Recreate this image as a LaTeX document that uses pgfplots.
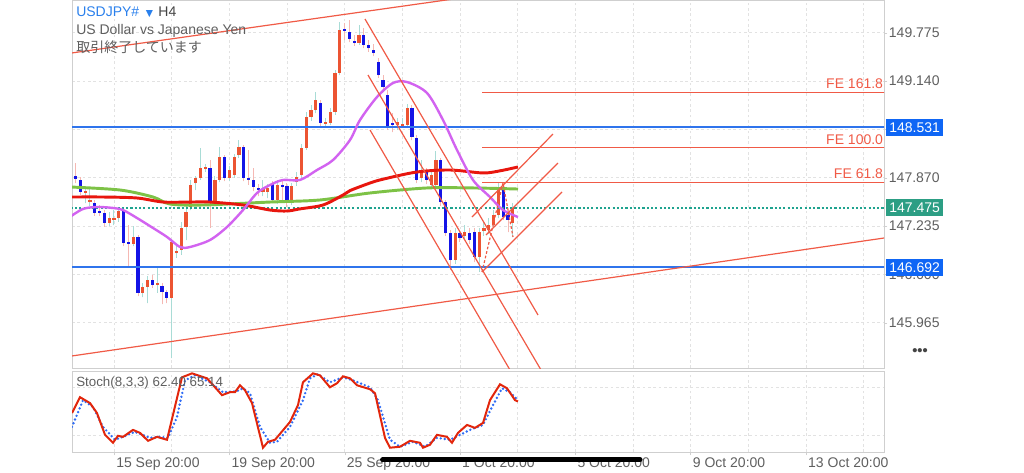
\documentclass[border=0pt]{standalone}
\usepackage{pgfplots}
\pgfplotsset{compat=1.18}
\usepackage{pgfplotstable}
\usepackage{fontspec}
\setmainfont{Liberation Sans}
\newfontfamily\cjk{Noto Sans CJK JP}
\newfontfamily\dejavu{DejaVu Sans}

\definecolor{candleup}{HTML}{EC5432}
\definecolor{candledn}{HTML}{1414E6}
\definecolor{wickup}{HTML}{A9DCD6}
\definecolor{wickdn}{HTML}{F5B8B3}
\definecolor{lvl}{HTML}{F05A46}
\definecolor{lvlblue}{HTML}{2F74EC}
\definecolor{boxblue}{HTML}{0F66F5}
\definecolor{boxteal}{HTML}{2C9E84}
\definecolor{lvlteal}{HTML}{1FA38F}
\definecolor{magma}{HTML}{D263F0}
\definecolor{mared}{HTML}{E8160E}
\definecolor{magreen}{HTML}{7DC246}
\definecolor{txtgrey}{HTML}{5F5F5F}
\definecolor{txtdark}{HTML}{444444}
\definecolor{hdrblue}{HTML}{2A80EC}
\definecolor{framec}{HTML}{CFCFCF}
\definecolor{gridc}{HTML}{E2E2E2}
\definecolor{stochred}{HTML}{E2260C}
\definecolor{stochblue}{HTML}{2F6CF5}

\pgfplotsset{candle/.style={only marks, mark=*, mark size=0pt, mark options={draw=none, fill=none}, forget plot}}

\pgfplotstableread{
i o h l c
-9 147.616 147.971 147.603 147.879
-8 147.892 148.063 147.800 147.853
-7 147.840 147.879 147.642 147.682
-6 147.669 147.748 147.537 147.695
-5 147.550 147.748 147.498 147.577
-4 147.537 147.577 147.367 147.406
-3 147.432 147.511 147.367 147.406
-2 147.406 147.445 147.222 147.275
-1 147.275 147.419 147.235 147.340
0 147.314 147.445 147.248 147.340
1 147.340 147.472 147.288 147.432
2 147.432 147.472 146.972 147.012
3 147.025 147.248 146.696 146.999
4 146.999 147.235 146.972 147.091
5 147.091 147.117 146.315 146.355
6 146.355 146.486 146.302 146.434
7 146.434 146.578 146.223 146.526
8 146.526 146.591 146.421 146.460
9 146.460 146.683 146.355 146.486
10 146.447 146.486 146.210 146.368
11 146.368 146.394 146.223 146.289
12 146.289 147.051 145.500 147.025
13 146.880 146.985 146.815 146.907
14 146.920 147.288 146.854 147.209
15 147.222 147.511 147.051 147.419
16 147.485 147.840 147.445 147.774
17 147.800 147.892 147.708 147.866
18 147.866 148.260 147.840 147.997
19 147.984 148.050 147.945 148.011
20 147.997 148.102 147.209 147.537
21 147.537 147.892 147.498 147.840
22 147.840 148.273 147.813 148.142
23 148.142 148.168 147.826 147.866
24 147.866 148.024 147.826 147.971
25 147.905 148.181 147.866 148.142
26 148.168 148.365 148.129 148.273
27 148.273 148.300 147.826 147.866
28 147.866 148.234 147.774 147.840
29 147.840 147.997 147.695 147.748
30 147.735 147.787 147.629 147.708
31 147.682 147.840 147.629 147.721
32 147.682 147.787 147.603 147.735
33 147.787 147.826 147.537 147.577
34 147.577 147.840 147.524 147.774
35 147.774 147.840 147.577 147.748
36 147.761 147.800 147.485 147.577
37 147.577 147.800 147.511 147.761
38 147.813 147.945 147.761 147.879
39 147.905 148.313 147.866 148.260
40 148.260 148.733 148.234 148.668
41 148.668 148.825 148.615 148.759
42 148.759 148.996 148.720 148.891
43 148.852 148.891 148.549 148.589
44 148.576 148.654 148.536 148.602
45 148.589 148.786 148.562 148.733
46 148.733 149.285 148.694 149.246
47 149.246 149.916 149.219 149.811
48 149.824 149.903 149.679 149.798
49 149.784 149.942 149.653 149.692
50 149.666 149.745 149.601 149.640
51 149.640 149.876 149.614 149.745
52 149.745 149.837 149.574 149.614
53 149.614 149.679 149.522 149.574
54 149.548 149.627 149.469 149.509
55 149.390 149.443 149.180 149.219
56 149.154 149.219 149.022 149.062
57 148.957 149.022 148.497 148.536
58 148.589 148.720 148.470 148.562
59 148.562 148.654 148.497 148.602
60 148.549 148.654 148.523 148.576
61 148.562 148.838 148.523 148.786
62 148.786 148.825 148.365 148.405
63 148.392 148.431 147.800 147.840
64 147.866 148.102 147.813 147.971
65 147.945 147.997 147.787 147.840
66 147.774 147.971 147.735 147.905
67 147.774 148.221 147.735 148.102
68 148.102 148.129 147.498 147.550
69 147.550 147.577 147.104 147.143
70 147.143 147.183 146.657 146.788
71 146.788 147.209 146.736 147.143
72 147.143 147.183 147.025 147.077
73 147.104 147.248 147.051 147.156
74 147.143 147.209 146.999 147.051
75 147.156 147.209 146.762 146.828
76 146.828 147.209 146.631 147.156
77 147.169 147.288 147.104 147.209
78 147.183 147.340 147.130 147.248
79 147.248 147.445 147.209 147.380
80 147.380 147.800 147.340 147.708
81 147.708 147.774 147.314 147.353
82 147.380 147.445 147.156 147.314
83 147.275 147.537 147.091 147.475
}\candles

\pgfplotstableread{
i p
-9.2 147.353
-6.45 147.459
-3.54 147.485
-0.21 147.472
1.87 147.445
4.79 147.340
8.12 147.209
11.03 147.091
13.74 146.959
15.82 146.959
19.98 147.051
23.52 147.222
26.85 147.445
29.76 147.669
32.47 147.774
35.17 147.840
38.71 147.840
42.25 147.971
45.58 148.102
49.11 148.365
51.20 148.628
54.73 148.930
58.06 149.114
60.98 149.127
65.14 148.983
68.47 148.628
71.38 148.234
74.71 147.840
78.25 147.616
80.96 147.445
84.08 147.353
}\maviolet

\pgfplotstableread{
i p
-9.2 147.616
-2.29 147.616
4.79 147.603
10.20 147.550
15.82 147.550
19.98 147.550
26.85 147.511
32.47 147.445
36.00 147.432
38.71 147.460
43.50 147.511
47.66 147.642
49.11 147.700
53.28 147.800
55.98 147.850
63.06 147.945
69.93 147.971
76.80 147.932
80.33 147.960
84.08 148.011
}\mared

\pgfplotstableread{
i p
-9.2 147.748
1.25 147.708
8.12 147.616
11.65 147.524
18.52 147.511
32.47 147.550
42.87 147.577
53.28 147.669
65.14 147.735
74.71 147.735
84.08 147.721
}\magreen

\pgfplotstableread{
i v
-8.74 48.1
-7.08 67.7
-4.99 60.4
-3.54 48.1
-1.87 21.2
-0.21 11.4
0.83 20.0
1.87 18.7
3.95 27.3
5.41 23.6
7.08 13.8
8.95 18.7
11.03 15.1
14.15 92.2
16.23 97.1
19.35 91.0
22.48 70.2
24.14 73.8
25.18 73.8
26.22 82.4
27.26 76.3
28.72 60.4
31.01 5.3
32.05 12.6
33.51 15.1
36.63 37.1
38.29 57.9
39.33 86.1
41.42 97.1
42.87 94.6
44.95 79.9
46.41 84.9
47.66 93.4
49.11 91.0
50.57 82.4
53.28 77.5
54.32 72.6
56.40 17.5
57.44 5.3
59.52 6.5
61.60 13.8
63.68 11.4
64.31 5.3
65.76 8.9
67.22 21.2
69.30 18.7
70.34 11.4
71.59 23.6
73.47 33.4
75.13 29.8
76.80 35.9
78.25 64.0
80.33 83.6
81.79 78.7
83.46 64.0
84.08 62.4
}\stochk

\pgfplotstableread{
i v
-8.74 31.0
-6.45 64.0
-4.37 55.5
-2.29 31.0
0.21 15.1
1.87 18.7
4.37 24.9
7.49 17.5
9.57 18.7
11.24 17.5
13.11 43.2
14.78 88.5
16.86 94.6
19.98 86.1
22.68 73.8
25.60 75.1
26.85 78.7
28.30 72.6
30.39 31.0
32.47 11.4
33.92 12.6
36.63 31.0
39.33 64.0
40.79 91.0
42.46 95.9
44.95 86.1
47.66 92.2
49.74 88.5
53.28 79.9
54.94 64.0
57.44 15.1
59.52 6.5
62.23 12.6
64.72 6.5
67.22 17.5
69.93 15.1
72.01 21.2
74.09 27.3
76.80 33.4
78.67 55.5
80.75 78.7
82.41 73.8
83.87 65.1
}\stochd

\pgfplotstableread{
i p
-9 148.531
161 148.531
}\lvlhigh
\pgfplotstableread{
i p
-9 146.692
161 146.692
}\lvllow
\pgfplotstableread{
i p
-9 147.475
161 147.475
}\lvlnow

\begin{document}
\begin{tikzpicture}
\useasboundingbox (0pt,0pt) rectangle (768pt,354pt);
% ---------------- main price panel ----------------
\begin{axis}[
  at={(54pt,78pt)}, anchor=south west, scale only axis,
  width=609pt, height=276pt,
  xmin=-8.74, xmax=160.25, ymin=145.369, ymax=150.205,
  clip mode=individual,
  axis line style={framec},
  xtick={0,24,48,72,96,120,144}, minor xtick={12,36,60,84,108,132,156},
  xticklabels={}, xtick style={draw=none}, minor tick length=0pt,
  xmajorgrids, xminorgrids, ymajorgrids,
  grid style={gridc, dash pattern=on 2pt off 2pt, line width=0.5pt},
  minor grid style={gridc, dash pattern=on 2pt off 2pt, line width=0.5pt},
  ytick={145.965,146.600,147.235,147.870,148.505,149.140,149.775},
  yticklabels={145.965,146.600,147.235,147.870,148.505,149.140,149.775},
  ytick pos=right, yticklabel pos=right, tick align=outside,
  major tick length=2.5pt, ytick style={framec},
  yticklabel style={font=\fontsize{10.5}{12}\selectfont, text=txtgrey, anchor=west, inner sep=0pt, xshift=1pt},
]
% candles: wicks
\addplot[candle,
  restrict expr to domain={\thisrow{c}-\thisrow{o}}{0:10},
  error bars/.cd, y dir=plus, y explicit, error mark=none,
  error bar style={line width=0.75pt, draw=wickup, solid}]
  table[x=i, y=l, y error expr={\thisrow{h}-\thisrow{l}}] {\candles};
\addplot[candle,
  restrict expr to domain={\thisrow{c}-\thisrow{o}}{-10:-0.0001},
  error bars/.cd, y dir=plus, y explicit, error mark=none,
  error bar style={line width=0.75pt, draw=wickdn, solid}]
  table[x=i, y=l, y error expr={\thisrow{h}-\thisrow{l}}] {\candles};
% candles: bodies
\addplot[candle,
  restrict expr to domain={\thisrow{c}-\thisrow{o}}{0:10},
  error bars/.cd, y dir=plus, y explicit, error mark=none,
  error bar style={line width=2.4pt, draw=candleup, solid}]
  table[x=i, y=o, y error expr={max(\thisrow{c}-\thisrow{o},0.014)}] {\candles};
\addplot[candle,
  restrict expr to domain={\thisrow{c}-\thisrow{o}}{-10:-0.0001},
  error bars/.cd, y dir=plus, y explicit, error mark=none,
  error bar style={line width=2.4pt, draw=candledn, solid}]
  table[x=i, y=c, y error expr={max(\thisrow{o}-\thisrow{c},0.014)}] {\candles};
% level lines
\addplot[color=lvlblue, solid, no markers, line width=1.5pt] table[x=i,y=p] {\lvlhigh};
\addplot[color=lvlblue, solid, no markers, line width=1.5pt] table[x=i,y=p] {\lvllow};
\addplot[color=lvlteal, no markers, line width=1.3pt, dash pattern=on 1.6pt off 1.6pt] table[x=i,y=p] {\lvlnow};
% moving averages
\addplot[magreen, line width=2.2pt, smooth, tension=0.5] table[x=i,y=p] {\magreen};
\addplot[mared, line width=2.2pt, smooth, tension=0.5] table[x=i,y=p] {\mared};
\addplot[magma, line width=1.8pt, smooth, tension=0.5] table[x=i,y=p] {\maviolet};
% FE levels
\addplot[lvl, line width=1.1pt] coordinates {(76.6,148.992)(161,148.992)};
\addplot[lvl, line width=1.1pt] coordinates {(76.6,148.264)(161,148.264)};
\addplot[lvl, line width=1.1pt] coordinates {(76.6,147.809)(161,147.809)};
% channel lines
\addplot[lvl, line width=0.9pt] coordinates {(-9,149.507)(80,150.302)};
\addplot[lvl, line width=0.9pt] coordinates {(-9,145.525)(161,147.084)};
\addplot[lvl, line width=0.9pt] coordinates {(52.24,149.955)(88.24,146.066)};
\addplot[lvl, line width=0.9pt] coordinates {(52.86,149.219)(88.87,145.343)};
\addplot[lvl, line width=0.9pt] coordinates {(53.28,148.497)(82.41,145.343)};
\addplot[lvl, line width=0.9pt] coordinates {(74.51,147.353)(91.36,148.444)};
\addplot[lvl, line width=0.9pt] coordinates {(77.42,147.117)(92.40,148.063)};
\addplot[lvl, line width=0.9pt] coordinates {(76.59,146.631)(93.24,147.682)};
\addplot[lvl, line width=0.9pt, dash pattern=on 2pt off 1.5pt] coordinates {(76.59,146.631)(80.96,147.800)(83.04,147.091)};
% FE labels
\node[anchor=south east, inner sep=0pt, text=lvl, font=\fontsize{10.5}{12}\selectfont] at (axis cs:160.1,149.035) {FE 161.8};
\node[anchor=south east, inner sep=0pt, text=lvl, font=\fontsize{10.5}{12}\selectfont] at (axis cs:160.1,148.307) {FE 100.0};
\node[anchor=south east, inner sep=0pt, text=lvl, font=\fontsize{10.5}{12}\selectfont] at (axis cs:160.1,147.852) {FE 61.8};
% price boxes
\node[anchor=west, fill=boxblue, text=white, inner xsep=2.6pt, inner ysep=2.8pt, font=\fontsize{10.5}{12}\selectfont] at ([xshift=1.2pt]axis cs:160.25,148.531) {148.531};
\node[anchor=west, fill=boxteal, text=white, inner xsep=2.6pt, inner ysep=2.8pt, font=\fontsize{10.5}{12}\selectfont] at ([xshift=1.2pt]axis cs:160.25,147.475) {147.475};
\node[anchor=west, fill=boxblue, text=white, inner xsep=2.6pt, inner ysep=2.8pt, font=\fontsize{10.5}{12}\selectfont] at ([xshift=1.2pt]axis cs:160.25,146.692) {146.692};
\end{axis}
% ---------------- stochastic panel ----------------
\begin{axis}[
  at={(54pt,15pt)}, anchor=south west, scale only axis,
  width=609pt, height=60.75pt,
  xmin=-8.74, xmax=160.25, ymin=0, ymax=100,
  axis line style={framec},
  xtick={0,24,48,72,96,120,144}, minor xtick={12,36,60,84,108,132,156},
  xticklabels={15 Sep 20:00,19 Sep 20:00,25 Sep 20:00,1 Oct 20:00,5 Oct 20:00,9 Oct 20:00,13 Oct 20:00},
  xtick pos=bottom, tick align=outside, major tick length=2.5pt, minor tick length=0pt,
  xtick style={framec},
  xticklabel style={font=\fontsize{10.5}{12}\selectfont, text=txtgrey, anchor=north west, inner sep=0pt, xshift=1.5pt, yshift=-1.5pt},
  xmajorgrids, xminorgrids, ymajorgrids,
  grid style={gridc, dash pattern=on 2pt off 2pt, line width=0.5pt},
  minor grid style={gridc, dash pattern=on 2pt off 2pt, line width=0.5pt},
  ytick={20,80}, yticklabels={}, ytick style={draw=none},
  ytick pos=right,
]
\addplot[stochblue, line width=2pt, line cap=round, dash pattern=on 0pt off 3pt] table[x=i,y=v] {\stochd};
\addplot[stochred, line width=1.5pt] table[x=i,y=v] {\stochk};
\node[anchor=west, inner sep=0pt, text=txtgrey, font=\fontsize{10.5}{12}\selectfont] at ([xshift=2.5pt]axis cs:160.25,89.75) {100.00};
\node[anchor=west, inner sep=0pt, text=txtgrey, font=\fontsize{10.5}{12}\selectfont] at ([xshift=2.5pt]axis cs:160.25,11.4) {0.00};
\end{axis}
% ---------------- texts ----------------
\node[anchor=west, inner sep=0pt, font=\fontsize{10.5}{12}\selectfont] at (57pt,345pt) {\textcolor{hdrblue}{USDJPY\#}\hspace{5pt}\textcolor{hdrblue}{{\dejavu\fontsize{7}{8}\selectfont ▼}}\hspace{4pt}\textcolor{txtdark}{H4}};
\node[anchor=west, inner sep=0pt, font=\fontsize{10.5}{12}\selectfont, text=txtgrey] at (57pt,330.5pt) {US Dollar vs Japanese Yen};
\node[anchor=west, inner sep=0pt, font=\fontsize{10.5}{12}\selectfont, text=txtgrey] at (57pt,318.5pt) {\cjk 取引終了しています};
\node[anchor=west, inner sep=0pt, font=\fontsize{10}{12}\selectfont, text=txtgrey] at (57pt,66.75pt) {Stoch(8,3,3) 62.40 65.14};
\node[inner sep=0pt, font=\fontsize{11}{12}\selectfont\bfseries, text=txtdark] at (690pt,90pt) {•••};
\draw[black, line width=3.8pt, line cap=round] (287pt,9.2pt) -- (480pt,9.2pt);
\end{tikzpicture}
\end{document}
